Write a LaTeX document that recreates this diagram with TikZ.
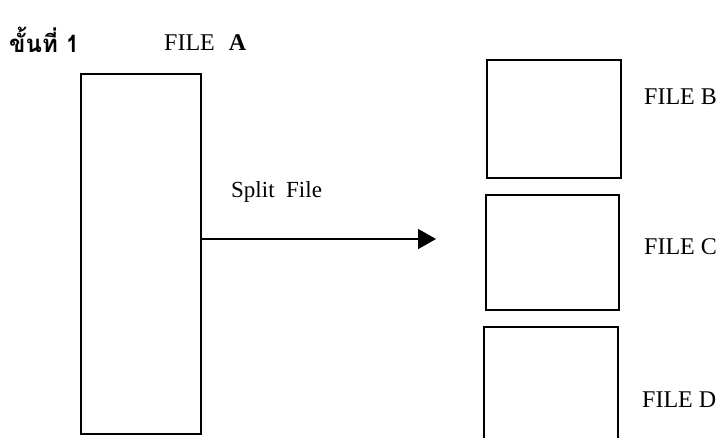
\documentclass[tikz,border=0pt]{standalone}
\usepackage{fontspec}
\setmainfont{Liberation Serif}
\newfontfamily\thaifont[Script=Thai]{Loma}
\usetikzlibrary{arrows.meta}
\begin{document}
\begin{tikzpicture}[x=1pt,y=-1pt,
  filebox/.style={draw, line width=1.9pt, inner sep=0pt, anchor=north west},
  lbl/.style={font=\fontsize{24}{27}\selectfont, inner sep=0pt, anchor=west}]
\clip (0,0) rectangle (719,437);
\fill[white] (0,0) rectangle (719,437);
\node[lbl, font=\thaifont\bfseries\fontsize{24}{27}\selectfont] (step) at (9,40) {ขั้นที่ 1};
\node[lbl] (la) at (164,43) {FILE\hspace{14pt}\textbf{A}};
\node[filebox, minimum width=120pt, minimum height=360pt] (a) at (80,73) {};
\node[filebox, minimum width=134pt, minimum height=118pt] (b) at (486,59) {};
\node[filebox, minimum width=133pt, minimum height=115pt] (c) at (485,194) {};
\node[filebox, minimum width=134pt, minimum height=130pt] (d) at (483,326) {};
\node[lbl] (lb) at (644,97) {FILE B};
\node[lbl] (lc) at (644,247) {FILE C};
\node[lbl] (ld) at (642,400) {FILE D};
\node[lbl, font=\fontsize{23}{26}\selectfont] (split) at (231,192) {Split\ \ File};
\coordinate (tip) at (436,239);
\draw[line width=1.7pt, -{Triangle[length=18pt,width=20pt]}] (a.east |- tip) -- (tip);
\end{tikzpicture}
\end{document}
